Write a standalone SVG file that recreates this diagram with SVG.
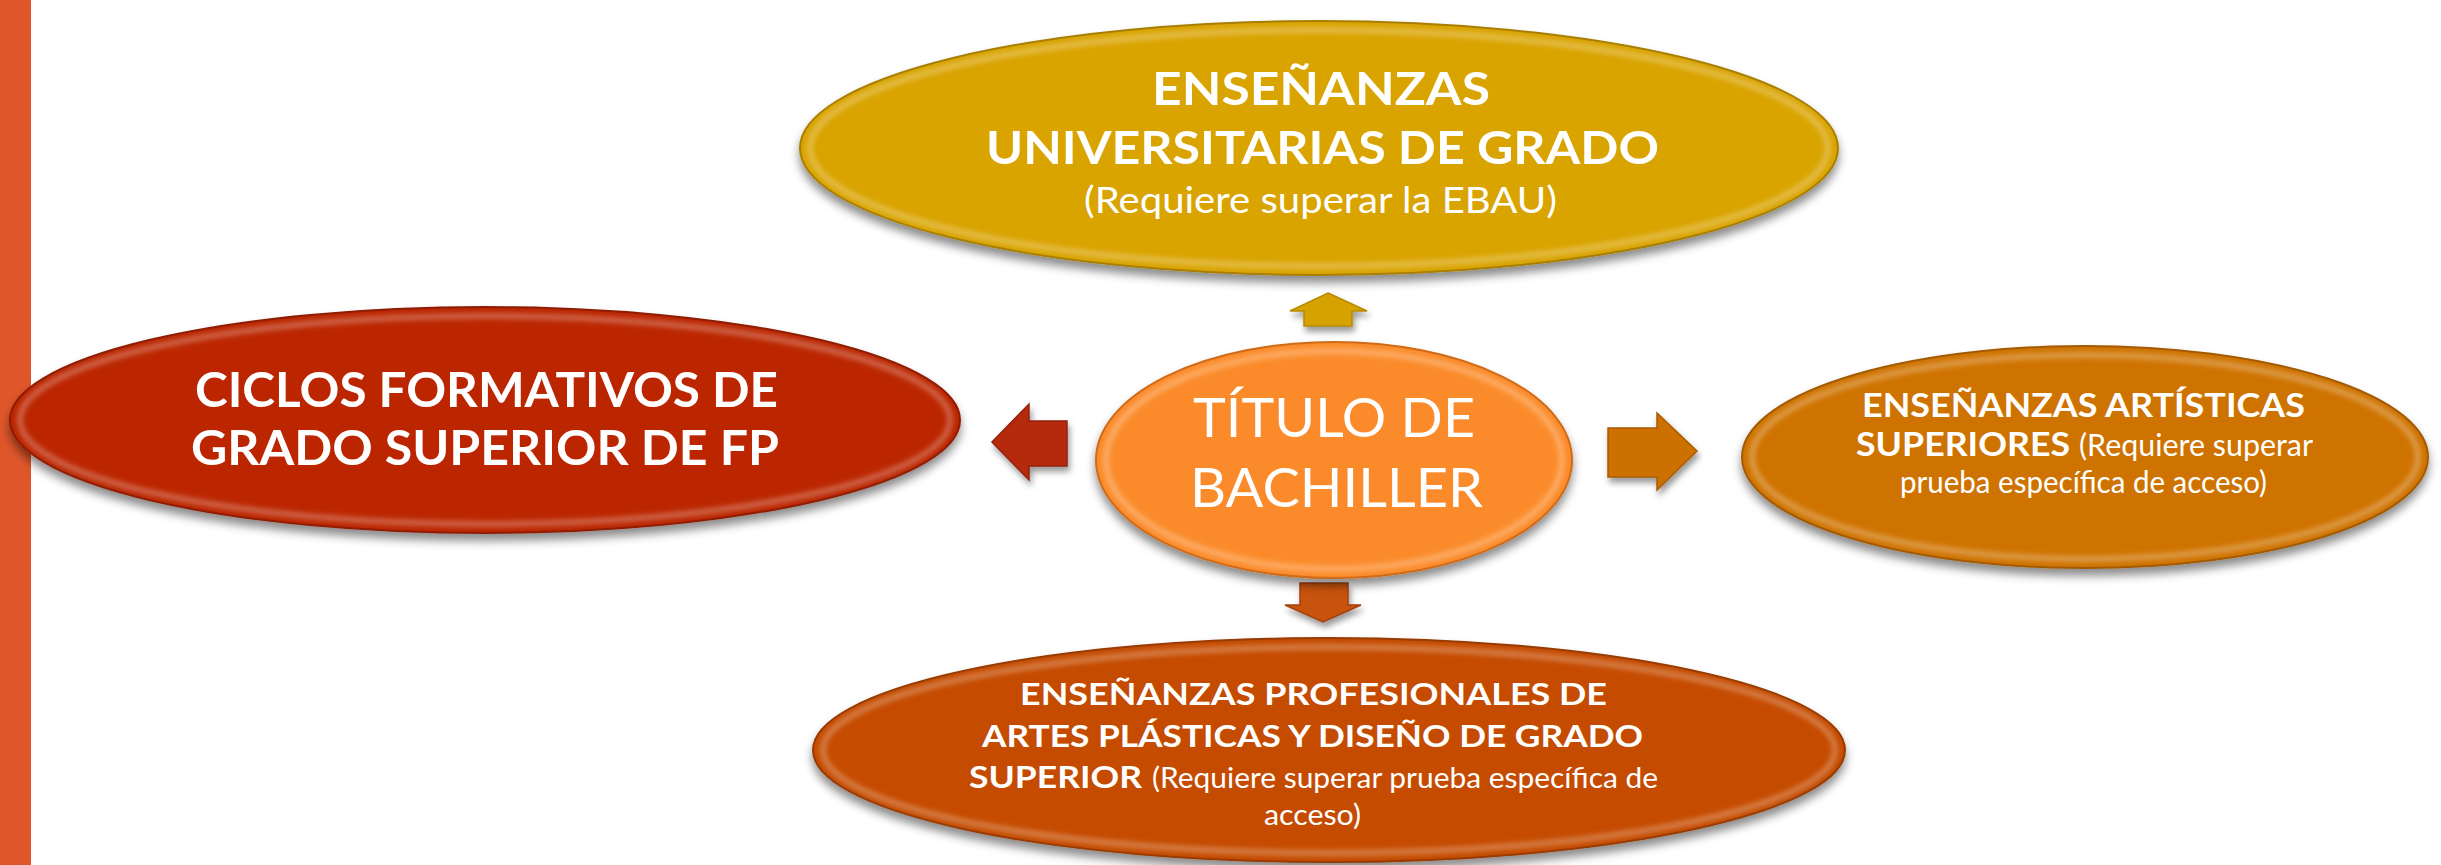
<svg xmlns="http://www.w3.org/2000/svg" width="2441" height="865" viewBox="0 0 2441 865">
<defs>
<filter id="sh" x="-10%" y="-10%" width="120%" height="130%">
<feDropShadow dx="0" dy="7" stdDeviation="5" flood-color="#000" flood-opacity="0.45"/>
</filter>
<filter id="ash" x="-30%" y="-30%" width="160%" height="170%">
<feDropShadow dx="2" dy="5" stdDeviation="3" flood-color="#000" flood-opacity="0.4"/>
</filter>
<filter id="bl" x="-5%" y="-5%" width="110%" height="110%"><feGaussianBlur stdDeviation="2.5"/></filter>
<style>
text{font-family:Lato,"Open Sans","Liberation Sans",sans-serif;fill:#fff;}
.b{font-weight:bold;}
.r{font-weight:normal;}
.rim{fill:none;stroke:#fff;stroke-opacity:0.28;stroke-width:6;}
.edge{stroke-width:2;}
</style>
</defs>
<rect x="0" y="0" width="2441" height="865" fill="#fff"/>
<rect x="0" y="0" width="31" height="865" fill="#E0562B"/>

<g id="connectors">
<polygon points="1328,293 1367,311 1352,311 1352,326 1304,326 1304,311 1290,311" fill="#D6A200" stroke="#B88A00" stroke-width="1.5" filter="url(#ash)"/>
<polygon points="992,442 1029,404 1029,421 1067,421 1067,466 1029,466 1029,480" fill="#B52A0A" stroke="#94200A" stroke-width="1.5" filter="url(#ash)"/>
<polygon points="1697,451 1657,413 1657,428 1608,428 1608,477 1657,477 1657,490" fill="#CC7000" stroke="#A85C00" stroke-width="1.5" filter="url(#ash)"/>
<polygon points="1300,583 1348,583 1348,605 1361,605 1323,622 1285,605 1300,605" fill="#C85210" stroke="#A4420C" stroke-width="1.5" filter="url(#ash)"/>
</g>

<g id="node-universitarias">
<ellipse cx="1319" cy="148" rx="519" ry="127" fill="#D9A300" stroke="#A87E00" class="edge" filter="url(#sh)"/>
<ellipse cx="1319" cy="148" rx="509" ry="118" class="rim" filter="url(#bl)"/>
<text class="b" font-size="46" x="1152" y="105" textLength="338" lengthAdjust="spacingAndGlyphs">ENSEÑANZAS</text>
<text class="b" font-size="46" x="986" y="164" textLength="673" lengthAdjust="spacingAndGlyphs">UNIVERSITARIAS DE GRADO</text>
<text class="r" font-size="37" x="1084" y="213" textLength="473" lengthAdjust="spacingAndGlyphs">(Requiere superar la EBAU)</text>
</g>

<g id="node-ciclos">
<ellipse cx="485" cy="420" rx="475" ry="113" fill="#BB2500" stroke="#8E1C00" class="edge" filter="url(#sh)"/>
<ellipse cx="485" cy="420" rx="465" ry="104" class="rim" filter="url(#bl)"/>
<text class="b" font-size="47" x="195" y="407" textLength="583" lengthAdjust="spacingAndGlyphs">CICLOS FORMATIVOS DE</text>
<text class="b" font-size="47" x="191" y="465" textLength="588" lengthAdjust="spacingAndGlyphs">GRADO SUPERIOR DE FP</text>
</g>

<g id="node-titulo">
<ellipse cx="1334" cy="460" rx="238" ry="118" fill="#FB8B2B" stroke="#D06A18" class="edge" filter="url(#sh)"/>
<ellipse cx="1334" cy="460" rx="228" ry="109" class="rim" filter="url(#bl)"/>
<text class="r" font-size="54" x="1193" y="437" textLength="282" lengthAdjust="spacingAndGlyphs">TÍTULO DE</text>
<text class="r" font-size="54" x="1190" y="507" textLength="293" lengthAdjust="spacingAndGlyphs">BACHILLER</text>
</g>

<g id="node-artisticas">
<ellipse cx="2085" cy="457" rx="343" ry="111" fill="#CF7300" stroke="#A35A00" class="edge" filter="url(#sh)"/>
<ellipse cx="2085" cy="457" rx="333" ry="102" class="rim" filter="url(#bl)"/>
<text class="b" font-size="32" x="1862" y="417" textLength="443" lengthAdjust="spacingAndGlyphs">ENSEÑANZAS ARTÍSTICAS</text>
<text y="456"><tspan class="b" font-size="32" x="1856" textLength="214" lengthAdjust="spacingAndGlyphs">SUPERIORES</tspan><tspan class="r" font-size="30" x="2079" textLength="234" lengthAdjust="spacingAndGlyphs">(Requiere superar</tspan></text>
<text class="r" font-size="30" x="1900" y="493" textLength="367" lengthAdjust="spacingAndGlyphs">prueba específica de acceso)</text>
</g>

<g id="node-profesionales">
<ellipse cx="1329" cy="750" rx="516" ry="112" fill="#C54B00" stroke="#983A00" class="edge" filter="url(#sh)"/>
<ellipse cx="1329" cy="750" rx="506" ry="103" class="rim" filter="url(#bl)"/>
<text class="b" font-size="31" x="1020" y="705" textLength="587" lengthAdjust="spacingAndGlyphs">ENSEÑANZAS PROFESIONALES DE</text>
<text class="b" font-size="31" x="982" y="747" textLength="661" lengthAdjust="spacingAndGlyphs">ARTES PLÁSTICAS Y DISEÑO DE GRADO</text>
<text y="788"><tspan class="b" font-size="31" x="969" textLength="173" lengthAdjust="spacingAndGlyphs">SUPERIOR</tspan><tspan class="r" font-size="29" x="1152" textLength="506" lengthAdjust="spacingAndGlyphs">(Requiere superar prueba específica de</tspan></text>
<text class="r" font-size="29" x="1264" y="825" textLength="97" lengthAdjust="spacingAndGlyphs">acceso)</text>
</g>
</svg>
